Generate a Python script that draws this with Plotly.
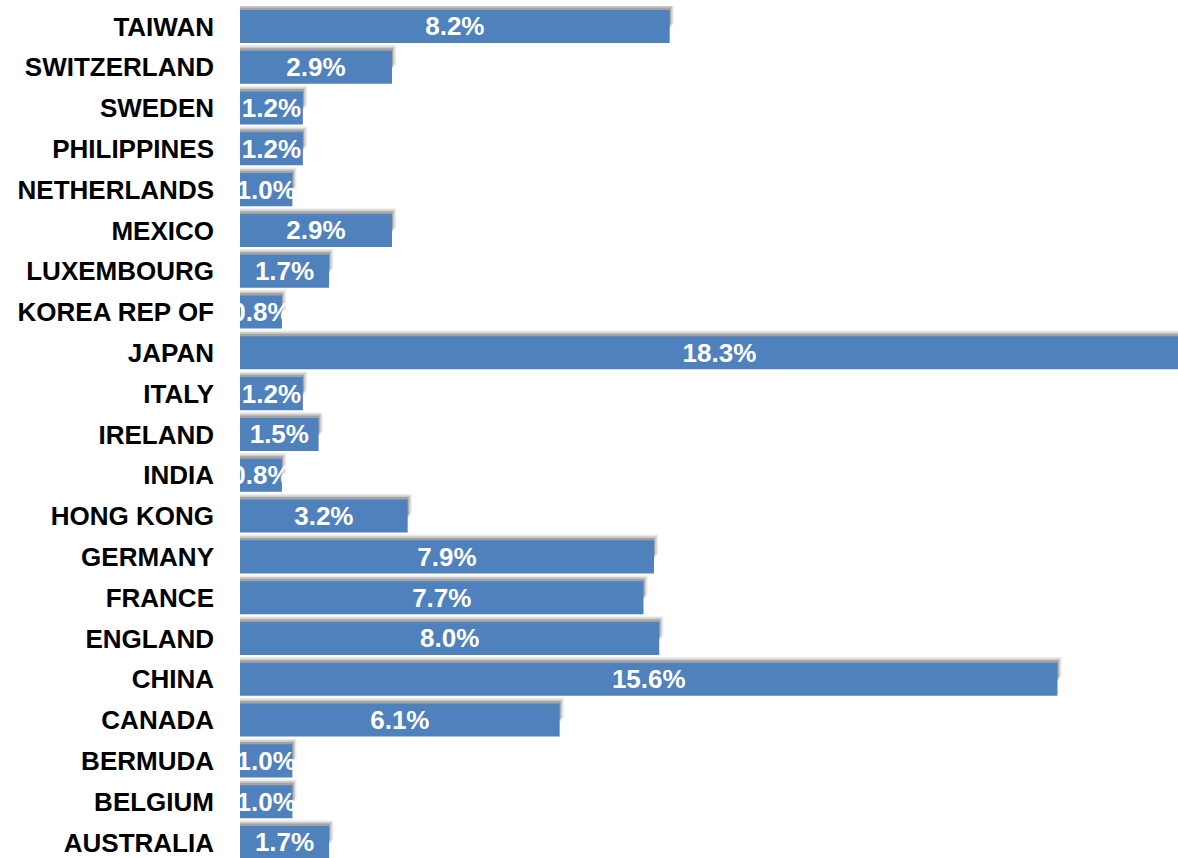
import plotly.graph_objects as go

# share by country, bottom to top as drawn
countries = ["AUSTRALIA", "BELGIUM", "BERMUDA", "CANADA", "CHINA", "ENGLAND", "FRANCE",
             "GERMANY", "HONG KONG", "INDIA", "IRELAND", "ITALY", "JAPAN", "KOREA REP OF",
             "LUXEMBOURG", "MEXICO", "NETHERLANDS", "PHILIPPINES", "SWEDEN", "SWITZERLAND", "TAIWAN"]
share = [1.7, 1.0, 1.0, 6.1, 15.6, 8.0, 7.7, 7.9, 3.2, 0.8, 1.5, 1.2, 18.3, 0.8,
         1.7, 2.9, 1.0, 1.2, 1.2, 2.9, 8.2]

label_font = "Liberation Sans Narrow, Arial Narrow, Liberation Sans, Arial, sans-serif"
bar_w = 0.81

fig = go.Figure()

# soft shadow sitting on top of each bar (faint layers)
for extra, shift, alpha in [(0.08, 0.14, 0.08), (0.05, 0.10, 0.13), (0.02, 0.06, 0.20)]:
    fig.add_trace(go.Bar(y=countries, x=[v + extra for v in share], orientation="h",
                         width=bar_w * 0.6, offset=bar_w * 0.4 - bar_w / 2 + shift,
                         marker=dict(color=f"rgba(0,0,0,{alpha})", line=dict(width=0)),
                         hoverinfo="skip", showlegend=False))

fig.add_trace(go.Bar(y=countries, x=share, orientation="h",
                     width=bar_w, offset=-bar_w / 2,
                     marker=dict(color="#4F81BD", line=dict(width=0)),
                     text=[f"{v:.1f}%" for v in share],
                     textposition="inside", insidetextanchor="middle",
                     constraintext="none", cliponaxis=True,
                     textfont=dict(family=label_font, size=26, color="white", weight="bold"),
                     showlegend=False))

fig.update_layout(
    width=1178, height=858,
    margin=dict(l=240, r=0, t=6, b=0),
    barmode="overlay",
    plot_bgcolor="white", paper_bgcolor="white",
    xaxis=dict(range=[0, 17.9], visible=False),
    yaxis=dict(range=[-0.38, 20.5], showgrid=False, zeroline=False, showline=False,
               ticks="", ticklabelstandoff=25,
               tickfont=dict(family=label_font, size=26, color="black", weight="bold")),
)

fig.write_html("out.html", config={"displayModeBar": False},
               post_script="document.body.style.margin='0';")
